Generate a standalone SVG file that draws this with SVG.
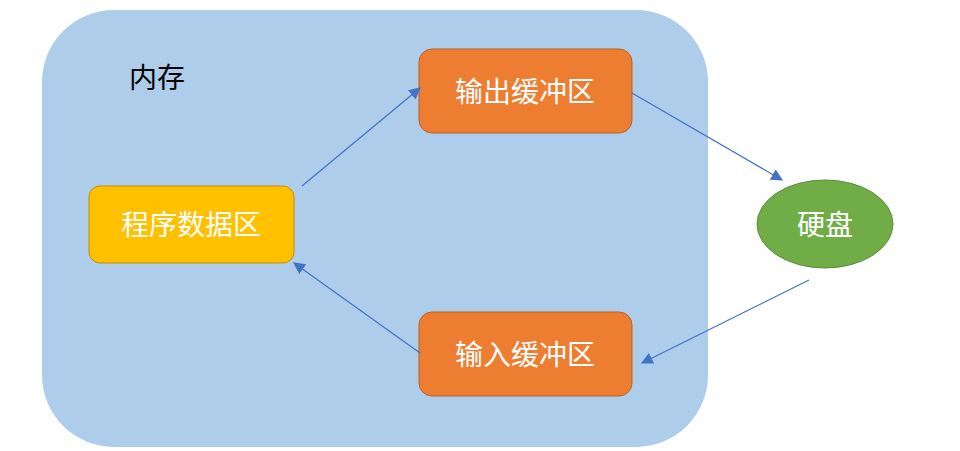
<svg xmlns="http://www.w3.org/2000/svg" width="960" height="451" viewBox="0 0 960 451">
<style>
text{font-family:"Noto Sans CJK SC","Liberation Sans",sans-serif;font-size:28px;text-anchor:middle;dominant-baseline:central}
.w{fill:#fff}
.orange{fill:#ED7D31;stroke:#B8632A;stroke-width:1}
.conn{stroke:#4472C4;stroke-width:1.2;fill:none;marker-end:url(#ah)}
</style>
<defs>
<marker id="ah" viewBox="0 0 10 10" refX="9" refY="5" markerWidth="12" markerHeight="12" markerUnits="userSpaceOnUse" orient="auto">
<path d="M0,0 L10,5 L0,10 z" fill="#4472C4"/>
</marker>
</defs>
<rect width="960" height="451" fill="#fff"/>
<g id="memory">
<rect x="42" y="10" width="666" height="437" rx="72" ry="72" fill="#AECDEA"/>
<text x="157" y="76" fill="#000">内存</text>
</g>
<g id="program">
<rect x="89" y="186" width="205" height="77" rx="11" fill="#FFC000" stroke="#C09000"/>
<text class="w" x="191" y="223">程序数据区</text>
</g>
<g id="outbuf">
<rect class="orange" x="419" y="49" width="213" height="84" rx="13"/>
<text class="w" x="525" y="90">输出缓冲区</text>
</g>
<g id="inbuf">
<rect class="orange" x="419" y="312" width="213" height="84" rx="13"/>
<text class="w" x="525" y="353">输入缓冲区</text>
</g>
<g id="disk">
<ellipse cx="825" cy="224" rx="68" ry="44" fill="#70AD47" stroke="#5A8E38"/>
<text class="w" x="825" y="223">硬盘</text>
</g>
<g id="connectors">
<line class="conn" x1="302" y1="186" x2="420" y2="88"/>
<line class="conn" x1="632" y1="93" x2="782" y2="180"/>
<line class="conn" x1="809" y1="280" x2="642" y2="363"/>
<line class="conn" x1="420" y1="353" x2="294" y2="263"/>
</g>
</svg>
